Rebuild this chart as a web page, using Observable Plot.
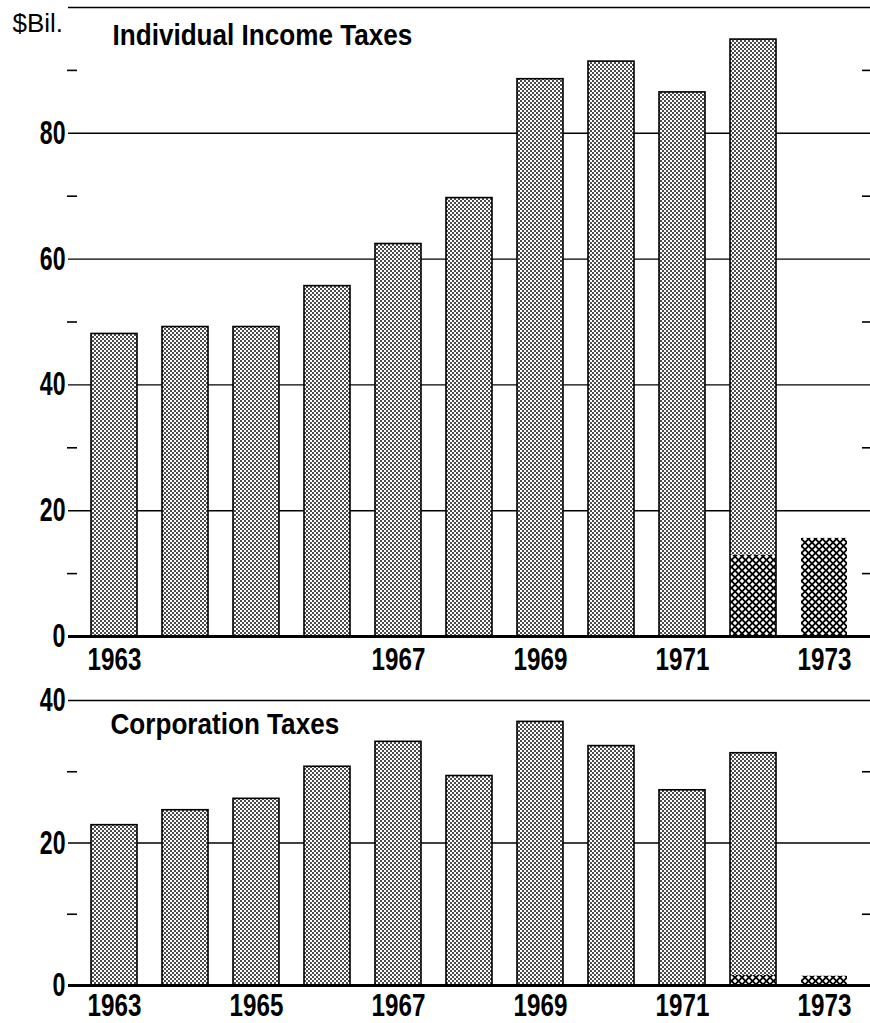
<!DOCTYPE html>
<html><head><meta charset="utf-8">
<script src="https://cdn.jsdelivr.net/npm/d3@7"></script>
<script src="https://cdn.jsdelivr.net/npm/@observablehq/plot@0.6"></script>
<style>
body{margin:0;background:#fff;}
#chart svg{display:block;}
#defs{position:absolute;width:0;height:0;}
</style></head><body>
<svg id="defs" width="0" height="0">
  <defs>
    <pattern id="dots" width="4" height="4" patternUnits="userSpaceOnUse">
      <rect width="4" height="4" fill="#fff"/>
      <circle cx="1" cy="1" r="0.95" fill="#000"/>
      <circle cx="3" cy="3" r="0.95" fill="#000"/>
    </pattern>
    <pattern id="xhatch" width="7" height="7" patternUnits="userSpaceOnUse">
      <rect width="7" height="7" fill="#000"/>
      <polygon points="3.5,1.3 5.7,3.5 3.5,5.7 1.3,3.5" fill="#fff"/>
      <polygon points="0,-2.2 2.2,0 0,2.2 -2.2,0" fill="#fff"/>
      <polygon points="7,-2.2 9.2,0 7,2.2 4.8,0" fill="#fff"/>
      <polygon points="0,4.8 2.2,7 0,9.2 -2.2,7" fill="#fff"/>
      <polygon points="7,4.8 9.2,7 7,9.2 4.8,7" fill="#fff"/>
    </pattern>
  </defs>
</svg>
<div id="chart"></div>
<script>
const years = [1963,1964,1965,1966,1967,1968,1969,1970,1971,1972,1973];
const individualTotal   = [48.1,49.2,49.2,55.7,62.4,69.7,88.6,91.4,86.5,94.9,15.6];
const individualHatched = [0,0,0,0,0,0,0,0,0,12.9,15.6];
const corporationTotal   = [22.5,24.6,26.2,30.7,34.2,29.4,37.0,33.6,27.4,32.6,1.3];
const corporationHatched = [0,0,0,0,0,0,0,0,0,1.4,1.3];
const individualYearLabels = [1963,1967,1969,1971,1973];
const corporationYearLabels = [1963,1965,1967,1969,1971,1973];
const individualMajorTicks = [0,20,40,60,80];
const individualMinorTicks = [10,30,50,70,90];
const corporationMajorTicks = [0,20,40];
const corporationMinorTicks = [10,30];

const FONT = "'Liberation Sans',Arial,sans-serif";
const Y_SIZE = 33, X_SIZE = 31, TITLE_SIZE = 30;
const squeeze = {[Y_SIZE]: 0.7, [X_SIZE]: 0.78, [TITLE_SIZE]: 0.87};

function panel({total, hatched, yMax, majors, minors, labels, title, titleDx, titleDy, unit, height, marginTop, marginBottom, labelPad}) {
  const rows = years.map((year, i) => ({year, total: total[i], hatched: hatched[i]}));
  const dotted = rows.filter(d => d.total > d.hatched);
  const hatch = rows.filter(d => d.hatched > 0);
  const grid = majors.filter(v => v > 0 && v < yMax).concat([yMax]);
  const marks = [
    Plot.ruleY(grid, {stroke: "#000", strokeWidth: 1.4}),
    Plot.rectY(dotted, {x: "year", y1: "hatched", y2: "total", fill: "url(#dots)"}),
    Plot.rectY(hatch, {x: "year", y1: 0, y2: "hatched", fill: "url(#xhatch)"}),
    Plot.rectY(dotted, {x: "year", y1: 0, y2: "total", fill: "none", stroke: "#000", strokeWidth: 1.6}),
    Plot.ruleY([0], {stroke: "#000", strokeWidth: 3}),
    Plot.axisY(majors, {anchor: "left", tickSize: 0, tickPadding: 3, fontSize: Y_SIZE, fontWeight: "bold", fontFamily: FONT, label: null}),
    Plot.axisY(minors, {anchor: "left", tickSize: 10, dx: 9, tickFormat: () => "", strokeWidth: 1.6, label: null}),
    Plot.axisY(minors, {anchor: "right", tickSize: 9, dx: -9, tickFormat: () => "", strokeWidth: 1.6, label: null}),
    Plot.axisX(labels, {anchor: "bottom", tickSize: 0, tickPadding: labelPad, fontSize: X_SIZE, fontWeight: "bold", fontFamily: FONT, tickFormat: d => String(d), label: null}),
    Plot.text([title], {frameAnchor: "top-left", textAnchor: "start", lineAnchor: "top", dx: titleDx, dy: titleDy, fontSize: TITLE_SIZE, fontWeight: "bold", fontFamily: FONT, fill: "#000"})
  ];
  if (unit) marks.push(Plot.text([unit], {frameAnchor: "top-left", textAnchor: "start", lineAnchor: "top", dx: -56, dy: 6, fontSize: 26, fontFamily: FONT, fill: "#000"}));
  return Plot.plot({
    width: 870, height, marginTop, marginBottom, marginLeft: 68, marginRight: 0,
    style: {background: "#fff", color: "#000"},
    x: {type: "band", domain: years, range: [76.8, 861.7], paddingInner: 0.355, paddingOuter: 0.1775, axis: null},
    y: {domain: [0, yMax], axis: null},
    marks
  });
}

function condense(svg) {
  svg.querySelectorAll("text").forEach(t => {
    const size = parseFloat(getComputedStyle(t).fontSize);
    const f = squeeze[Math.round(size)];
    if (!f) return;
    const w = t.getComputedTextLength();
    if (w > 0) {
      t.setAttribute("textLength", (w * f).toFixed(1));
      t.setAttribute("lengthAdjust", "spacingAndGlyphs");
    }
  });
}

const chartEl = document.getElementById("chart");
const individualPanel = panel({
  total: individualTotal, hatched: individualHatched, yMax: 100,
  majors: individualMajorTicks, minors: individualMinorTicks, labels: individualYearLabels,
  title: "Individual Income Taxes", titleDx: 44, titleDy: 16, unit: "$Bil.",
  height: 680, marginTop: 7, marginBottom: 44, labelPad: 11
});
const corporationPanel = panel({
  total: corporationTotal, hatched: corporationHatched, yMax: 40,
  majors: corporationMajorTicks, minors: corporationMinorTicks, labels: corporationYearLabels,
  title: "Corporation Taxes", titleDx: 42, titleDy: 12, unit: null,
  height: 343, marginTop: 20, marginBottom: 38, labelPad: 8
});
chartEl.append(individualPanel, corporationPanel);
condense(individualPanel);
condense(corporationPanel);
</script>
</body></html>
